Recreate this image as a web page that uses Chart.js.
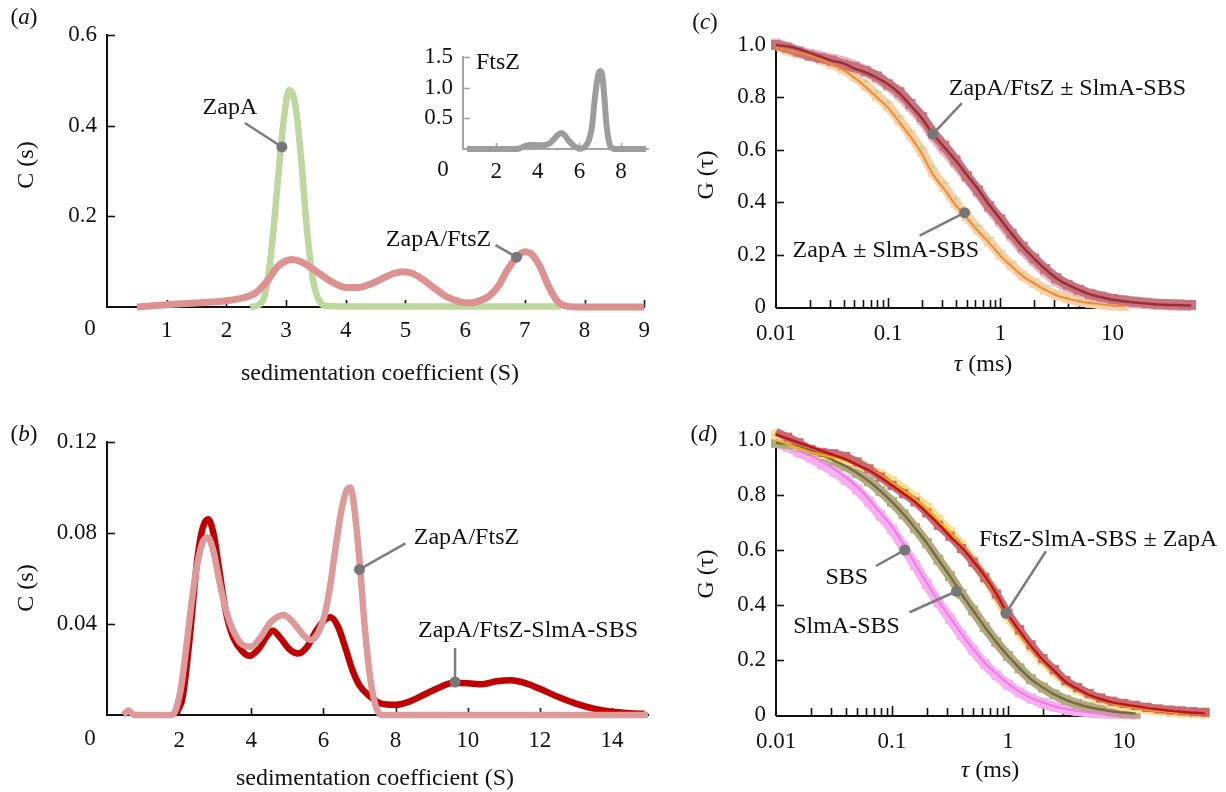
<!DOCTYPE html>
<html>
<head>
<meta charset="utf-8">
<script src="https://cdn.jsdelivr.net/npm/chart.js@4"></script>
<style>
  body { margin: 0; background: #fff; }
  #wrap { position: relative; width: 1226px; height: 792px; }
  canvas { position: absolute; }
</style>
</head>
<body>
<div id="wrap">
  <canvas id="cA" width="660" height="400" style="left:0;top:0"></canvas>
  <canvas id="cInset" width="260" height="160" style="left:400px;top:30px"></canvas>
  <canvas id="cB" width="660" height="382" style="left:0;top:410px"></canvas>
  <canvas id="cC" width="566" height="400" style="left:660px;top:0"></canvas>
  <canvas id="cD" width="566" height="382" style="left:660px;top:410px"></canvas>
</div>
<script>
// ---- panel (a): sedimentation velocity, ZapA and ZapA/FtsZ
var aZapA_S = [2.4, 2.55, 2.65, 2.75, 2.85, 2.95, 3.05, 3.15, 3.25, 3.35, 3.45, 3.55, 3.7, 4.0, 5.0, 6.0, 7.0, 7.6];
var aZapA_C = [0, 0.005, 0.03, 0.12, 0.26, 0.4, 0.478, 0.45, 0.33, 0.17, 0.06, 0.015, 0.002, 0.001, 0.001, 0.001, 0.001, 0.001];
var aMix_S = [0.5, 1.0, 1.5, 2.0, 2.3, 2.5, 2.7, 2.85, 3.0, 3.1, 3.25, 3.4, 3.6, 3.8, 4.0, 4.2, 4.4, 4.6, 4.8, 4.95, 5.1, 5.3, 5.5, 5.7, 5.9, 6.05, 6.2, 6.4, 6.55, 6.7, 6.85, 7.0, 7.1, 7.25, 7.4, 7.55, 7.7, 8.0, 9.0];
var aMix_C = [0, 0.005, 0.009, 0.014, 0.021, 0.032, 0.06, 0.088, 0.102, 0.105, 0.1, 0.088, 0.07, 0.053, 0.043, 0.043, 0.05, 0.062, 0.074, 0.078, 0.075, 0.06, 0.04, 0.022, 0.012, 0.009, 0.012, 0.024, 0.045, 0.08, 0.108, 0.122, 0.118, 0.09, 0.045, 0.012, 0.002, 0, 0];
var aXTicks = [1, 2, 3, 4, 5, 6, 7, 8, 9];
var aYTicks = [0.2, 0.4, 0.6];

// inset: FtsZ alone
var inS = [0.6, 2.0, 3.0, 3.2, 3.4, 3.6, 3.85, 4.1, 4.35, 4.6, 4.8, 5.0, 5.15, 5.3, 5.5, 5.7, 5.9, 6.05, 6.25, 6.45, 6.6, 6.75, 6.9, 7.0, 7.1, 7.2, 7.3, 7.45, 7.6, 7.8, 9.2];
var inC = [0, 0, 0, 0.02, 0.05, 0.065, 0.065, 0.06, 0.065, 0.1, 0.17, 0.24, 0.26, 0.22, 0.13, 0.06, 0.015, 0.005, 0.03, 0.14, 0.35, 0.85, 1.2, 1.27, 1.2, 0.85, 0.4, 0.08, 0.01, 0, 0];
var inXTicks = [2, 4, 6, 8];
var inYTicks = [0.5, 1.0, 1.5];

// ---- panel (b)
var bMix_S = [0.45, 0.6, 0.75, 0.9, 1.8, 1.9, 2.05, 2.2, 2.35, 2.5, 2.65, 2.8, 2.95, 3.1, 3.3, 3.5, 3.75, 4.0, 4.25, 4.55, 4.9, 5.2, 5.45, 5.65, 5.85, 6.05, 6.2, 6.35, 6.5, 6.65, 6.75, 6.85, 7.0, 7.15, 7.3, 7.45, 7.6, 15];
var bMix_C = [0, 0.002, 0, 0, 0, 0.002, 0.012, 0.03, 0.05, 0.066, 0.076, 0.078, 0.072, 0.06, 0.046, 0.037, 0.031, 0.03, 0.034, 0.041, 0.044, 0.04, 0.035, 0.033, 0.036, 0.045, 0.058, 0.075, 0.09, 0.099, 0.1, 0.092, 0.068, 0.038, 0.016, 0.004, 0, 0];
var bSBS_S = [1.85, 2.1, 2.3, 2.5, 2.65, 2.8, 2.95, 3.1, 3.3, 3.5, 3.75, 3.95, 4.2, 4.45, 4.6, 4.8, 5.05, 5.3, 5.55, 5.8, 6.05, 6.2, 6.4, 6.6, 6.8, 7.0, 7.3, 7.6, 8.0, 8.4, 8.8, 9.2, 9.6, 10.0, 10.4, 10.8, 11.2, 11.6, 12.0, 12.5, 13.0, 13.5, 14.0, 14.5, 14.9];
var bSBS_C = [0, 0.008, 0.035, 0.068, 0.082, 0.086, 0.08, 0.065, 0.045, 0.034, 0.028, 0.026, 0.029, 0.035, 0.037, 0.034, 0.029, 0.027, 0.03, 0.037, 0.042, 0.043, 0.039, 0.03, 0.02, 0.013, 0.008, 0.005, 0.0045, 0.006, 0.009, 0.012, 0.0142, 0.014, 0.0135, 0.0148, 0.0153, 0.014, 0.0115, 0.008, 0.005, 0.0028, 0.0014, 0.0008, 0.0005];
var bXTicks = [2, 4, 6, 8, 10, 12, 14];
var bYTicks = [0.04, 0.08, 0.12];

// ---- FCS panels (c) and (d), lag time in ms
var tau = [0.01, 0.0126, 0.0158, 0.02, 0.0251, 0.0316, 0.0398, 0.0501, 0.0631, 0.0794, 0.1, 0.126, 0.158, 0.2, 0.251, 0.316, 0.398, 0.501, 0.631, 0.794, 1, 1.26, 1.58, 2, 2.51, 3.16, 3.98, 5.01, 6.31, 7.94, 10, 12.6, 15.8, 20, 25.1, 31.6, 39.8, 50.1];

var cFtsZ_fit = [1.0, 0.995, 0.985, 0.97, 0.955, 0.94, 0.93, 0.91, 0.895, 0.875, 0.85, 0.815, 0.77, 0.72, 0.66, 0.61, 0.56, 0.505, 0.45, 0.39, 0.335, 0.28, 0.23, 0.185, 0.145, 0.11, 0.085, 0.065, 0.048, 0.037, 0.028, 0.022, 0.017, 0.013, 0.01, 0.008, 0.007, 0.006];
var cFtsZ = [1.0, 0.99, 0.975, 0.96, 0.95, 0.94, 0.925, 0.915, 0.9, 0.88, 0.85, 0.82, 0.775, 0.725, 0.665, 0.615, 0.56, 0.5, 0.445, 0.385, 0.335, 0.28, 0.23, 0.185, 0.145, 0.11, 0.085, 0.066, 0.05, 0.04, 0.031, 0.025, 0.02, 0.016, 0.012, 0.01, 0.009, 0.008];
var cFtsZSlmA = [1.005, 0.99, 0.975, 0.965, 0.955, 0.945, 0.935, 0.92, 0.9, 0.875, 0.845, 0.81, 0.765, 0.715, 0.655, 0.6, 0.55, 0.495, 0.44, 0.38, 0.325, 0.27, 0.22, 0.175, 0.135, 0.1, 0.078, 0.06, 0.045, 0.035, 0.027, 0.02, 0.016, 0.013, 0.01, 0.008, 0.007, 0.006];
var cZapA_fit = [0.99, 0.98, 0.97, 0.96, 0.945, 0.925, 0.905, 0.875, 0.84, 0.8, 0.76, 0.705, 0.65, 0.585, 0.505, 0.45, 0.39, 0.34, 0.29, 0.245, 0.195, 0.155, 0.118, 0.09, 0.065, 0.045, 0.032, 0.022, 0.015, 0.01, 0.006, 0.004];
var cZapA = [1.0, 0.98, 0.968, 0.958, 0.945, 0.928, 0.908, 0.88, 0.846, 0.806, 0.766, 0.712, 0.657, 0.592, 0.515, 0.458, 0.398, 0.347, 0.296, 0.25, 0.2, 0.158, 0.12, 0.092, 0.066, 0.046, 0.033, 0.023, 0.016, 0.01, 0.006, 0.004];
var cZapASlmA = [0.99, 0.985, 0.978, 0.968, 0.958, 0.94, 0.92, 0.895, 0.862, 0.822, 0.783, 0.728, 0.673, 0.61, 0.535, 0.475, 0.415, 0.36, 0.308, 0.258, 0.207, 0.165, 0.125, 0.094, 0.068, 0.048, 0.034, 0.024, 0.016, 0.01, 0.006, 0.004];

var dRed_fit = [1.02, 1.005, 0.99, 0.975, 0.96, 0.945, 0.93, 0.91, 0.89, 0.865, 0.835, 0.805, 0.775, 0.735, 0.695, 0.65, 0.61, 0.56, 0.505, 0.44, 0.365, 0.305, 0.25, 0.2, 0.16, 0.12, 0.095, 0.073, 0.058, 0.046, 0.038, 0.032, 0.025, 0.02, 0.015, 0.011, 0.008, 0.005];
var dYel_fit = [1.0, 0.985, 0.97, 0.955, 0.945, 0.935, 0.925, 0.91, 0.89, 0.87, 0.845, 0.815, 0.785, 0.75, 0.705, 0.665, 0.615, 0.56, 0.5, 0.435, 0.36, 0.3, 0.245, 0.197, 0.157, 0.12, 0.094, 0.072, 0.056, 0.043, 0.034, 0.027, 0.02, 0.015, 0.011, 0.008, 0.006, 0.004];
var dOli_fit = [0.99, 0.985, 0.975, 0.96, 0.945, 0.925, 0.905, 0.88, 0.85, 0.815, 0.775, 0.73, 0.68, 0.625, 0.565, 0.505, 0.44, 0.38, 0.32, 0.265, 0.215, 0.17, 0.13, 0.1, 0.075, 0.055, 0.04, 0.028, 0.02, 0.013, 0.008, 0.005];
var dPnk_fit = [1.0, 0.985, 0.965, 0.945, 0.92, 0.895, 0.865, 0.83, 0.785, 0.735, 0.685, 0.62, 0.55, 0.48, 0.415, 0.355, 0.295, 0.24, 0.19, 0.15, 0.115, 0.085, 0.062, 0.045, 0.032, 0.022, 0.015, 0.01, 0.007, 0.005, 0.003, 0.002];
var dRed = [1.03, 1.01, 0.99, 0.965, 0.955, 0.95, 0.94, 0.92, 0.895, 0.865, 0.835, 0.805, 0.775, 0.735, 0.69, 0.65, 0.605, 0.555, 0.5, 0.44, 0.37, 0.31, 0.255, 0.205, 0.165, 0.125, 0.1, 0.078, 0.062, 0.05, 0.042, 0.035, 0.028, 0.022, 0.018, 0.015, 0.012, 0.01];
var dYel = [1.02, 1.0, 0.98, 0.965, 0.95, 0.94, 0.93, 0.915, 0.895, 0.875, 0.85, 0.82, 0.79, 0.755, 0.71, 0.665, 0.615, 0.56, 0.5, 0.435, 0.36, 0.3, 0.245, 0.197, 0.157, 0.12, 0.094, 0.072, 0.056, 0.043, 0.034, 0.027, 0.021, 0.016, 0.012, 0.009, 0.007, 0.005];
var dOli = [0.99, 0.985, 0.975, 0.96, 0.945, 0.925, 0.905, 0.88, 0.85, 0.815, 0.775, 0.73, 0.68, 0.625, 0.565, 0.505, 0.44, 0.38, 0.32, 0.265, 0.215, 0.17, 0.13, 0.1, 0.075, 0.055, 0.04, 0.028, 0.02, 0.013, 0.008, 0.005];
var dPnk = [0.99, 0.975, 0.955, 0.935, 0.91, 0.885, 0.855, 0.82, 0.775, 0.725, 0.675, 0.61, 0.545, 0.475, 0.41, 0.35, 0.29, 0.235, 0.185, 0.145, 0.11, 0.082, 0.06, 0.043, 0.03, 0.021, 0.014, 0.009, 0.006, 0.004, 0.003, 0.002];

var logXTicks = [0.01, 0.1, 1, 10];
var gYTicks = [0, 0.2, 0.4, 0.6, 0.8, 1.0];

var FONT = "'Liberation Serif', 'DejaVu Serif', serif";
Chart.defaults.font.family = FONT;
Chart.defaults.color = '#111';

// minor ticks for the log axes
var logMinor = [];
[0.01, 0.1, 1].forEach(function (d) { for (var m = 2; m <= 10; m++) logMinor.push(+(m * d).toPrecision(3)); });

function pts(xs, ys) {
  var out = [];
  for (var i = 0; i < ys.length; i++) out.push({ x: xs[i], y: ys[i] });
  return out;
}
function lineSet(xs, ys, color, w) {
  return { data: pts(xs, ys), showLine: true, borderColor: color, borderWidth: w, pointRadius: 0,
    cubicInterpolationMode: 'monotone', fill: false, clip: false };
}
// measured points: square markers sitting on a band of the same colour
function squareSet(xs, ys, color, r, band) {
  return { data: pts(xs, ys), showLine: !!band, borderColor: color, borderWidth: band || 0,
    cubicInterpolationMode: 'monotone', pointStyle: 'rect', pointRadius: r,
    pointBackgroundColor: color, pointBorderWidth: 0, fill: false, clip: false };
}

// inward tick marks, pointer annotations and loose text
var inTicks = {
  id: 'inTicks',
  beforeDatasetsDraw: function (chart, args, o) {
    var ctx = chart.ctx, xs = chart.scales.x, ys = chart.scales.y;
    ctx.save();
    ctx.strokeStyle = o.color || '#111';
    ctx.lineWidth = 1.6;
    if (o.xLine) {
      ctx.lineWidth = 2;
      ctx.beginPath(); ctx.moveTo(xs.left, ys.bottom + 1); ctx.lineTo(xs.getPixelForValue(o.xLine), ys.bottom + 1); ctx.stroke();
      ctx.lineWidth = 1.6;
    }
    (o.x || []).forEach(function (v) {
      var px = Math.round(xs.getPixelForValue(v)) + 0.5;
      var len = (o.major && o.major.indexOf(v) >= 0) ? o.len + 2 : o.len;
      ctx.beginPath(); ctx.moveTo(px, ys.bottom); ctx.lineTo(px, ys.bottom - len); ctx.stroke();
    });
    (o.y || []).forEach(function (v) {
      var py = Math.round(ys.getPixelForValue(v)) + 0.5;
      ctx.beginPath(); ctx.moveTo(xs.left, py); ctx.lineTo(xs.left + o.len + 1, py); ctx.stroke();
    });
    ctx.restore();
  }
};

var pointers = {
  id: 'pointers',
  afterDatasetsDraw: function (chart, args, o) {
    var ctx = chart.ctx;
    (o.items || []).forEach(function (a) {
      var px = chart.scales.x.getPixelForValue(a.x), py = chart.scales.y.getPixelForValue(a.y);
      ctx.save();
      ctx.strokeStyle = '#7d7d7d'; ctx.lineWidth = 2.5;
      ctx.beginPath(); ctx.moveTo(px + a.lx, py + a.ly); ctx.lineTo(px, py); ctx.stroke();
      ctx.fillStyle = '#777';
      ctx.beginPath(); ctx.arc(px, py, 5.5, 0, Math.PI * 2); ctx.fill();
      ctx.fillStyle = '#111'; ctx.font = '24px ' + FONT;
      ctx.textAlign = a.align || 'center'; ctx.textBaseline = 'middle';
      ctx.fillText(a.text, px + a.tx, py + a.ty);
      ctx.restore();
    });
  }
};

var texts = {
  id: 'texts',
  afterDraw: function (chart, args, o) {
    var ctx = chart.ctx;
    (o.items || []).forEach(function (t) {
      var parts = t.parts || [[t.t, false]];
      var size = t.size || 24;
      ctx.save();
      ctx.translate(t.x, t.y);
      if (t.rot) ctx.rotate(t.rot * Math.PI / 180);
      ctx.fillStyle = '#111'; ctx.textBaseline = 'middle'; ctx.textAlign = 'left';
      var w = 0;
      parts.forEach(function (p) { ctx.font = (p[1] ? 'italic ' : '') + size + 'px ' + FONT; w += ctx.measureText(p[0]).width; });
      var x0 = t.align === 'left' ? 0 : -w / 2;
      parts.forEach(function (p) {
        ctx.font = (p[1] ? 'italic ' : '') + size + 'px ' + FONT;
        ctx.fillText(p[0], x0, 0);
        x0 += ctx.measureText(p[0]).width;
      });
      ctx.restore();
    });
  }
};

function fixedTicks(list) { return function (axis) { axis.ticks = list.map(function (v) { return { value: v }; }); }; }

function makeChart(id, cfg) {
  // datasets are listed bottom-to-top; Chart.js paints the first one last
  var sets = cfg.datasets.slice().reverse();
  return new Chart(document.getElementById(id), {
    type: 'line',
    data: { datasets: sets },
    options: {
      responsive: false, animation: false, events: [],
      layout: { padding: cfg.pad },
      plugins: { legend: { display: false }, tooltip: { enabled: false },
        inTicks: cfg.ticks, pointers: { items: cfg.pointers || [] }, texts: { items: cfg.texts || [] } },
      scales: {
        x: {
          type: cfg.xType || 'linear', min: cfg.xMin, max: cfg.xMax,
          grid: { display: false, drawTicks: false },
          border: { display: cfg.xBorder !== false, color: cfg.axisColor || '#111', width: 2 },
          afterBuildTicks: fixedTicks(cfg.xTicks),
          afterFit: function (s) { s.height = cfg.xH; },
          ticks: { autoSkip: false, maxRotation: 0, padding: cfg.xPad, font: { size: 23 }, color: '#111',
            callback: function (v) { return String(v); } }
        },
        y: {
          min: cfg.yMin, max: cfg.yMax,
          grid: { display: false, drawTicks: false },
          border: { color: cfg.axisColor || '#111', width: 2 },
          afterBuildTicks: fixedTicks(cfg.yTicks),
          afterFit: function (s) { s.width = cfg.yW; },
          ticks: { autoSkip: false, padding: 10, font: { size: 23 }, color: '#111',
            callback: function (v) { return v === 0 ? '0' : v.toFixed(cfg.yDec); } }
        }
      }
    },
    plugins: [inTicks, pointers, texts]
  });
}

// (a)
makeChart('cA', {
  datasets: [lineSet(aZapA_S, aZapA_C, '#bdd89c', 6.5), lineSet(aMix_S, aMix_C, '#dd9190', 7)],
  pad: { left: 0, top: 35, right: 12, bottom: 0 }, yW: 107, xH: 93, xPad: 10,
  xMin: 0, xMax: 9, yMin: 0, yMax: 0.6, xTicks: aXTicks, yTicks: aYTicks, yDec: 1,
  ticks: { x: aXTicks, y: aYTicks, len: 7 },
  pointers: [
    { x: 2.93, y: 0.353, lx: -37, ly: -24, tx: -52, ty: -39, text: 'ZapA' },
    { x: 6.86, y: 0.11, lx: -21, ly: -12, tx: -78, ty: -17, text: 'ZapA/FtsZ' }
  ],
  texts: [
    { parts: [['(', false], ['a', true], [')', false]], x: 24, y: 18, size: 23 },
    { t: '0', x: 90, y: 329, size: 23 },
    { t: 'C (s)', x: 27, y: 165, rot: -90 },
    { t: 'sedimentation coefficient (S)', x: 380, y: 374 }
  ]
});

// inset of (a)
makeChart('cInset', {
  datasets: [lineSet(inS, inC, '#9c9c9c', 6)],
  pad: { left: 0, top: 27, right: 12, bottom: 0 }, yW: 63, xH: 41, xPad: 9, axisColor: '#a5a5a5',
  xMin: 0.4, xMax: 9.3, yMin: 0, yMax: 1.5, xTicks: inXTicks, yTicks: inYTicks, yDec: 1,
  ticks: { x: inXTicks, y: inYTicks, len: 6, color: '#a5a5a5' },
  texts: [
    { t: '0', x: 43, y: 140, size: 23 },
    { t: 'FtsZ', x: 76, y: 33, align: 'left', size: 24 }
  ]
});

// (b)
makeChart('cB', {
  datasets: [lineSet(bSBS_S, bSBS_C, '#c00000', 6.5), lineSet(bMix_S, bMix_C, '#dc9a9a', 6.5)],
  pad: { left: 0, top: 32, right: 12, bottom: 0 }, yW: 107, xH: 77, xPad: 12,
  xMin: 0, xMax: 15, yMin: 0, yMax: 0.12, xTicks: bXTicks, yTicks: bYTicks, yDec: 2,
  ticks: { x: bXTicks, y: bYTicks, len: 7 },
  pointers: [
    { x: 7.0, y: 0.064, lx: 46, ly: -26, tx: 107, ty: -32, text: 'ZapA/FtsZ' },
    { x: 9.65, y: 0.0145, lx: 0, ly: -34, tx: 73, ty: -51, text: 'ZapA/FtsZ-SlmA-SBS' }
  ],
  texts: [
    { parts: [['(', false], ['b', true], [')', false]], x: 24, y: 25, size: 23 },
    { t: '0', x: 90, y: 329, size: 23 },
    { t: 'C (s)', x: 27, y: 178, rot: -90 },
    { t: 'sedimentation coefficient (S)', x: 375, y: 369 }
  ]
});

// (c)
makeChart('cC', {
  datasets: [
    squareSet(tau, cZapA, '#f9cfa8', 7, 10),
    squareSet(tau, cZapASlmA, '#b5d996', 2.6, 0),
    squareSet(tau, cFtsZSlmA, '#e9b3bd', 7, 11),
    squareSet(tau, cFtsZ, '#c8727c', 7, 10),
    lineSet(tau, cZapA_fit, '#f28a2c', 2),
    lineSet(tau, cFtsZ_fit, '#98303a', 2.5)
  ],
  pad: { left: 0, top: 45, right: 35, bottom: 0 }, yW: 116, xH: 93, xPad: 13, xBorder: false,
  xType: 'logarithmic', xMin: 0.01, xMax: 50, yMin: 0, yMax: 1.0, xTicks: logXTicks, yTicks: gYTicks, yDec: 1,
  ticks: { x: logMinor, major: [0.1, 1, 10], y: [0.2, 0.4, 0.6, 0.8, 1.0], len: 7, xLine: 13 },
  pointers: [
    { x: 0.25, y: 0.66, lx: 29, ly: -31, tx: 16, ty: -45, align: 'left', text: 'ZapA/FtsZ \u00b1 SlmA-SBS' },
    { x: 0.48, y: 0.36, lx: -45, ly: 23, tx: -172, ty: 38, align: 'left', text: 'ZapA \u00b1 SlmA-SBS' }
  ],
  texts: [
    { parts: [['(', false], ['c', true], [')', false]], x: 45, y: 23, size: 23 },
    { t: 'G (\u03c4)', x: 47, y: 175, rot: -90 },
    { parts: [['\u03c4', true], [' (ms)', false]], x: 323, y: 365 }
  ]
});

// (d)
makeChart('cD', {
  datasets: [
    squareSet(tau, dPnk, '#f6aef0', 7, 10),
    squareSet(tau, dOli, '#b3a97e', 7, 10),
    squareSet(tau, dYel, '#f9df92', 7, 10),
    squareSet(tau, dRed, '#c86a70', 6.5, 8),
    lineSet(tau, dPnk_fit, '#f07ae6', 2),
    lineSet(tau, dOli_fit, '#776b45', 2.5),
    lineSet(tau, dYel_fit, '#f5b400', 2),
    lineSet(tau, dRed_fit, '#c2101c', 2.5)
  ],
  pad: { left: 0, top: 30, right: 21, bottom: 0 }, yW: 116, xH: 77, xPad: 13, xBorder: false,
  xType: 'logarithmic', xMin: 0.01, xMax: 50, yMin: 0, yMax: 1.0, xTicks: logXTicks, yTicks: gYTicks, yDec: 1,
  ticks: { x: logMinor, major: [0.1, 1, 10], y: [0.2, 0.4, 0.6, 0.8, 1.0], len: 7, xLine: 12 },
  pointers: [
    { x: 0.96, y: 0.37, lx: 40, ly: -62, tx: -27, ty: -74, align: 'left', text: 'FtsZ-SlmA-SBS \u00b1 ZapA' },
    { x: 0.129, y: 0.6, lx: -29, ly: 16, tx: -58, ty: 28, text: 'SBS' },
    { x: 0.36, y: 0.45, lx: -47, ly: 21, tx: -110, ty: 35, text: 'SlmA-SBS' }
  ],
  texts: [
    { parts: [['(', false], ['d', true], [')', false]], x: 44, y: 25, size: 23 },
    { t: 'G (\u03c4)', x: 47, y: 164, rot: -90 },
    { parts: [['\u03c4', true], [' (ms)', false]], x: 330, y: 361 }
  ]
});
</script>
</body>
</html>
